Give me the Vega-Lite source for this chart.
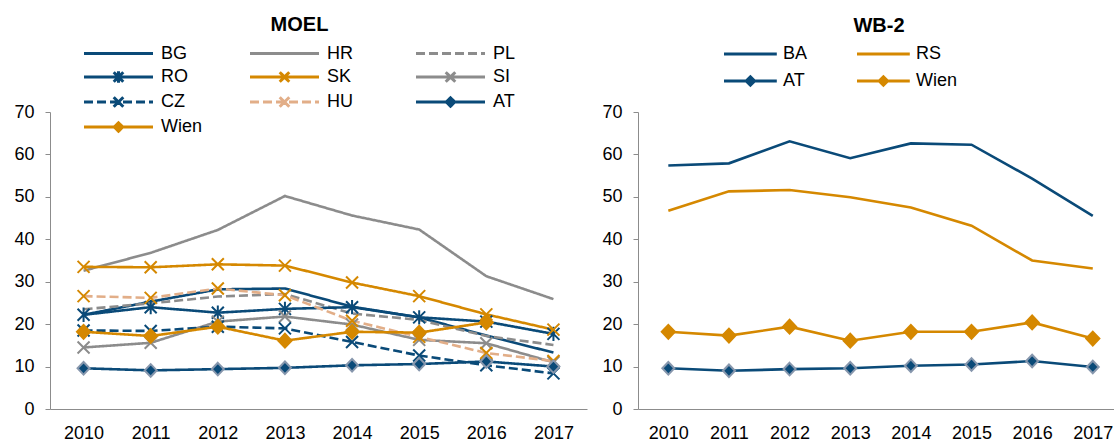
{
  "$schema": "https://vega.github.io/schema/vega-lite/v6.json",
  "padding": {"left": 13, "top": 15, "right": 0, "bottom": 0},
  "spacing": 14,
  "config": {
    "view": {"stroke": null},
    "font": "Liberation Sans",
    "title": {"fontSize": 20, "fontWeight": "bold", "font": "Liberation Sans", "anchor": "middle", "frame": "group", "color": "#000", "offset": 8},
    "axis": {"grid": false, "title": null, "labelFontSize": 18, "labelColor": "#000", "labelFont": "Liberation Sans", "domainColor": "#8c8c8c", "tickColor": "#8c8c8c"},
    "legend": {"labelFontSize": 18, "labelFont": "Liberation Sans", "labelColor": "#000", "title": null, "orient": "none", "direction": "horizontal", "symbolStrokeWidth": 3, "symbolSize": 144, "gridAlign": "all"}
  },
  "datasets": {
    "moel": [
      {"s": "BG", "year": 2010, "v": 22.2}, {"s": "BG", "year": 2011, "v": 25.3}, {"s": "BG", "year": 2012, "v": 28.2}, {"s": "BG", "year": 2013, "v": 28.4}, {"s": "BG", "year": 2014, "v": 24.1}, {"s": "BG", "year": 2015, "v": 21.6}, {"s": "BG", "year": 2016, "v": 17.3}, {"s": "BG", "year": 2017, "v": 13.3},
      {"s": "HR", "year": 2010, "v": 32.6}, {"s": "HR", "year": 2011, "v": 36.8}, {"s": "HR", "year": 2012, "v": 42.2}, {"s": "HR", "year": 2013, "v": 50.2}, {"s": "HR", "year": 2014, "v": 45.6}, {"s": "HR", "year": 2015, "v": 42.3}, {"s": "HR", "year": 2016, "v": 31.3}, {"s": "HR", "year": 2017, "v": 25.9},
      {"s": "PL", "year": 2010, "v": 23.5}, {"s": "PL", "year": 2011, "v": 24.9}, {"s": "PL", "year": 2012, "v": 26.5}, {"s": "PL", "year": 2013, "v": 27.1}, {"s": "PL", "year": 2014, "v": 22.5}, {"s": "PL", "year": 2015, "v": 21.0}, {"s": "PL", "year": 2016, "v": 17.2}, {"s": "PL", "year": 2017, "v": 15.1},
      {"s": "RO", "year": 2010, "v": 22.2}, {"s": "RO", "year": 2011, "v": 24.0}, {"s": "RO", "year": 2012, "v": 22.7}, {"s": "RO", "year": 2013, "v": 23.6}, {"s": "RO", "year": 2014, "v": 24.0}, {"s": "RO", "year": 2015, "v": 21.6}, {"s": "RO", "year": 2016, "v": 20.6}, {"s": "RO", "year": 2017, "v": 17.7},
      {"s": "SK", "year": 2010, "v": 33.5}, {"s": "SK", "year": 2011, "v": 33.4}, {"s": "SK", "year": 2012, "v": 34.1}, {"s": "SK", "year": 2013, "v": 33.8}, {"s": "SK", "year": 2014, "v": 29.8}, {"s": "SK", "year": 2015, "v": 26.6}, {"s": "SK", "year": 2016, "v": 22.3}, {"s": "SK", "year": 2017, "v": 18.7},
      {"s": "SI", "year": 2010, "v": 14.5}, {"s": "SI", "year": 2011, "v": 15.6}, {"s": "SI", "year": 2012, "v": 20.6}, {"s": "SI", "year": 2013, "v": 21.8}, {"s": "SI", "year": 2014, "v": 19.9}, {"s": "SI", "year": 2015, "v": 16.3}, {"s": "SI", "year": 2016, "v": 15.5}, {"s": "SI", "year": 2017, "v": 11.0},
      {"s": "CZ", "year": 2010, "v": 18.5}, {"s": "CZ", "year": 2011, "v": 18.4}, {"s": "CZ", "year": 2012, "v": 19.4}, {"s": "CZ", "year": 2013, "v": 19.0}, {"s": "CZ", "year": 2014, "v": 15.8}, {"s": "CZ", "year": 2015, "v": 12.6}, {"s": "CZ", "year": 2016, "v": 10.3}, {"s": "CZ", "year": 2017, "v": 8.4},
      {"s": "HU", "year": 2010, "v": 26.6}, {"s": "HU", "year": 2011, "v": 26.2}, {"s": "HU", "year": 2012, "v": 28.4}, {"s": "HU", "year": 2013, "v": 26.8}, {"s": "HU", "year": 2014, "v": 20.8}, {"s": "HU", "year": 2015, "v": 17.0}, {"s": "HU", "year": 2016, "v": 13.2}, {"s": "HU", "year": 2017, "v": 11.3},
      {"s": "AT", "year": 2010, "v": 9.6}, {"s": "AT", "year": 2011, "v": 9.1}, {"s": "AT", "year": 2012, "v": 9.4}, {"s": "AT", "year": 2013, "v": 9.7}, {"s": "AT", "year": 2014, "v": 10.3}, {"s": "AT", "year": 2015, "v": 10.6}, {"s": "AT", "year": 2016, "v": 11.2}, {"s": "AT", "year": 2017, "v": 10.0},
      {"s": "Wien", "year": 2010, "v": 18.2}, {"s": "Wien", "year": 2011, "v": 17.2}, {"s": "Wien", "year": 2012, "v": 19.4}, {"s": "Wien", "year": 2013, "v": 16.1}, {"s": "Wien", "year": 2014, "v": 18.2}, {"s": "Wien", "year": 2015, "v": 18.0}, {"s": "Wien", "year": 2016, "v": 20.4}
    ],
    "wb2": [
      {"s": "BA", "year": 2010, "v": 57.4}, {"s": "BA", "year": 2011, "v": 57.9}, {"s": "BA", "year": 2012, "v": 63.1}, {"s": "BA", "year": 2013, "v": 59.1}, {"s": "BA", "year": 2014, "v": 62.6}, {"s": "BA", "year": 2015, "v": 62.3}, {"s": "BA", "year": 2016, "v": 54.3}, {"s": "BA", "year": 2017, "v": 45.5},
      {"s": "RS", "year": 2010, "v": 46.7}, {"s": "RS", "year": 2011, "v": 51.3}, {"s": "RS", "year": 2012, "v": 51.6}, {"s": "RS", "year": 2013, "v": 49.9}, {"s": "RS", "year": 2014, "v": 47.5}, {"s": "RS", "year": 2015, "v": 43.2}, {"s": "RS", "year": 2016, "v": 35.0}, {"s": "RS", "year": 2017, "v": 33.1},
      {"s": "AT", "year": 2010, "v": 9.6}, {"s": "AT", "year": 2011, "v": 9.0}, {"s": "AT", "year": 2012, "v": 9.4}, {"s": "AT", "year": 2013, "v": 9.6}, {"s": "AT", "year": 2014, "v": 10.2}, {"s": "AT", "year": 2015, "v": 10.5}, {"s": "AT", "year": 2016, "v": 11.3}, {"s": "AT", "year": 2017, "v": 9.9},
      {"s": "Wien", "year": 2010, "v": 18.2}, {"s": "Wien", "year": 2011, "v": 17.3}, {"s": "Wien", "year": 2012, "v": 19.4}, {"s": "Wien", "year": 2013, "v": 16.1}, {"s": "Wien", "year": 2014, "v": 18.2}, {"s": "Wien", "year": 2015, "v": 18.2}, {"s": "Wien", "year": 2016, "v": 20.4}, {"s": "Wien", "year": 2017, "v": 16.6}
    ]
  },
  "resolve": {
    "scale": {"x": "independent", "y": "independent", "color": "independent", "strokeDash": "independent", "shape": "independent", "stroke": "independent", "fill": "independent"},
    "legend": {"color": "independent"}
  },
  "hconcat": [
    {
      "title": {"text": "MOEL", "dx": -19},
      "width": 537,
      "height": 297,
      "data": {"name": "moel"},
      "encoding": {
        "x": {"field": "year", "type": "quantitative", "scale": {"domain": [2009.5, 2017.5], "nice": false, "zero": false}, "axis": {"values": [2010, 2011, 2012, 2013, 2014, 2015, 2016, 2017], "format": "d", "ticks": false, "labelPadding": 15, "labelFlush": false}},
        "y": {"field": "v", "type": "quantitative", "scale": {"domain": [0, 70], "nice": false}, "axis": {"values": [0, 10, 20, 30, 40, 50, 60, 70], "tickSize": 5, "labelPadding": 11}}
      },
      "layer": [
        {
          "mark": {"type": "line", "strokeWidth": 2.6},
          "encoding": {
            "color": {
              "field": "s", "type": "nominal",
              "scale": {"domain": ["BG", "HR", "PL", "RO", "SK", "SI", "CZ", "HU", "AT", "Wien"], "range": ["#0a4a78", "#8c8c8c", "#8c8c8c", "#0a4a78", "#d58800", "#8c8c8c", "#0a4a78", "#e2ae88", "#0a4a78", "#d58800"]},
              "legend": {
                "columns": 3, "legendX": 31, "legendY": -69, "labelOffset": 62, "columnPadding": 41, "rowPadding": 1,
                "encode": {"symbols": {"update": {
                  "shape": {"signal": "datum.value==='RO' ? 'M-1,0H10.5M4.75,0L5.55,0.8M4.75,0L3.95,-0.8M4.75,0L5.55,-0.8M4.75,0L3.95,0.8M4.75,-0.95V0.95' : indexof(['SK','SI','CZ','HU'], datum.value) >= 0 ? 'M-1,0H10.5M4.75,0L5.55,0.8M4.75,0L3.95,-0.8M4.75,0L5.55,-0.8M4.75,0L3.95,0.8' : indexof(['AT','Wien'], datum.value) >= 0 ? 'M-1,0H10.5M4.75,-0.7L5.45,0L4.75,0.7L4.05,0Z' : 'M-1,0H10.5'"},
                  "strokeDash": {"signal": "indexof(['PL','CZ','HU'], datum.value) >= 0 ? [9,4] : [1,0]"},
                  "fill": {"signal": "datum.value==='AT' ? '#0a4a78' : datum.value==='Wien' ? '#d58800' : 'transparent'"}
                }}}
              }
            },
            "strokeDash": {
              "field": "s", "type": "nominal",
              "scale": {"domain": ["BG", "HR", "PL", "RO", "SK", "SI", "CZ", "HU", "AT", "Wien"], "range": [[1, 0], [1, 0], [9, 4], [1, 0], [1, 0], [1, 0], [9, 4], [9, 4], [1, 0], [1, 0]]},
              "legend": null
            }
          }
        },
        {
          "transform": [{"filter": {"field": "s", "oneOf": ["RO", "SK", "SI", "CZ", "HU", "AT", "Wien"]}}],
          "mark": {"type": "point", "filled": true, "size": 144, "strokeWidth": 2, "opacity": 1},
          "encoding": {
            "shape": {
              "field": "s", "type": "nominal",
              "scale": {"domain": ["RO", "SK", "SI", "CZ", "HU", "AT", "Wien"], "range": ["M0,0L1,1M0,0L-1,-1M0,0L1,-1M0,0L-1,1M0,-1.2V1.2", "M0,0L1,1M0,0L-1,-1M0,0L1,-1M0,0L-1,1", "M0,0L1,1M0,0L-1,-1M0,0L1,-1M0,0L-1,1", "M0,0L1,1M0,0L-1,-1M0,0L1,-1M0,0L-1,1", "M0,0L1,1M0,0L-1,-1M0,0L1,-1M0,0L-1,1", "M0,-1.05L1,0L0,1.05L-1,0Z", "M0,-1.15L1.1,0L0,1.15L-1.1,0Z"]},
              "legend": null
            },
            "stroke": {
              "field": "s", "type": "nominal",
              "scale": {"domain": ["RO", "SK", "SI", "CZ", "HU", "AT", "Wien"], "range": ["#0a4a78", "#d58800", "#8c8c8c", "#0a4a78", "#d58800", "#8797ad", "#d58800"]},
              "legend": null
            },
            "fill": {
              "field": "s", "type": "nominal",
              "scale": {"domain": ["RO", "SK", "SI", "CZ", "HU", "AT", "Wien"], "range": ["transparent", "transparent", "transparent", "transparent", "transparent", "#0a4a78", "#d58800"]},
              "legend": null
            }
          }
        }
      ]
    },
    {
      "title": {"text": "WB-2", "dx": 3},
      "width": 476,
      "height": 297,
      "data": {"name": "wb2"},
      "encoding": {
        "x": {"field": "year", "type": "quantitative", "scale": {"domain": [2009.5, 2017.35], "nice": false, "zero": false}, "axis": {"values": [2010, 2011, 2012, 2013, 2014, 2015, 2016, 2017], "format": "d", "ticks": false, "labelPadding": 15, "labelFlush": false}},
        "y": {"field": "v", "type": "quantitative", "scale": {"domain": [0, 70], "nice": false}, "axis": {"values": [0, 10, 20, 30, 40, 50, 60, 70], "tickSize": 5, "labelPadding": 11}}
      },
      "layer": [
        {
          "mark": {"type": "line", "strokeWidth": 2.6},
          "encoding": {
            "color": {
              "field": "s", "type": "nominal",
              "scale": {"domain": ["BA", "RS", "AT", "Wien"], "range": ["#0a4a78", "#d58800", "#0a4a78", "#d58800"]},
              "legend": {
                "columns": 2, "legendX": 83, "legendY": -68, "labelOffset": 44, "columnPadding": 26, "rowPadding": 6,
                "encode": {"symbols": {"update": {
                  "shape": {"signal": "indexof(['AT','Wien'], datum.value) >= 0 ? 'M-1,0H7.8M3.4,-0.7L4.1,0L3.4,0.7L2.7,0Z' : 'M-1,0H7.8'"},
                  "fill": {"signal": "datum.value==='AT' ? '#0a4a78' : datum.value==='Wien' ? '#d58800' : 'transparent'"}
                }}}
              }
            }
          }
        },
        {
          "transform": [{"filter": {"field": "s", "oneOf": ["AT", "Wien"]}}],
          "mark": {"type": "point", "filled": true, "size": 144, "strokeWidth": 2, "opacity": 1},
          "encoding": {
            "shape": {
              "field": "s", "type": "nominal",
              "scale": {"domain": ["AT", "Wien"], "range": ["M0,-1.05L1,0L0,1.05L-1,0Z", "M0,-1.15L1.1,0L0,1.15L-1.1,0Z"]},
              "legend": null
            },
            "stroke": {
              "field": "s", "type": "nominal",
              "scale": {"domain": ["AT", "Wien"], "range": ["#8797ad", "#d58800"]},
              "legend": null
            },
            "fill": {
              "field": "s", "type": "nominal",
              "scale": {"domain": ["AT", "Wien"], "range": ["#0a4a78", "#d58800"]},
              "legend": null
            }
          }
        }
      ]
    }
  ]
}
